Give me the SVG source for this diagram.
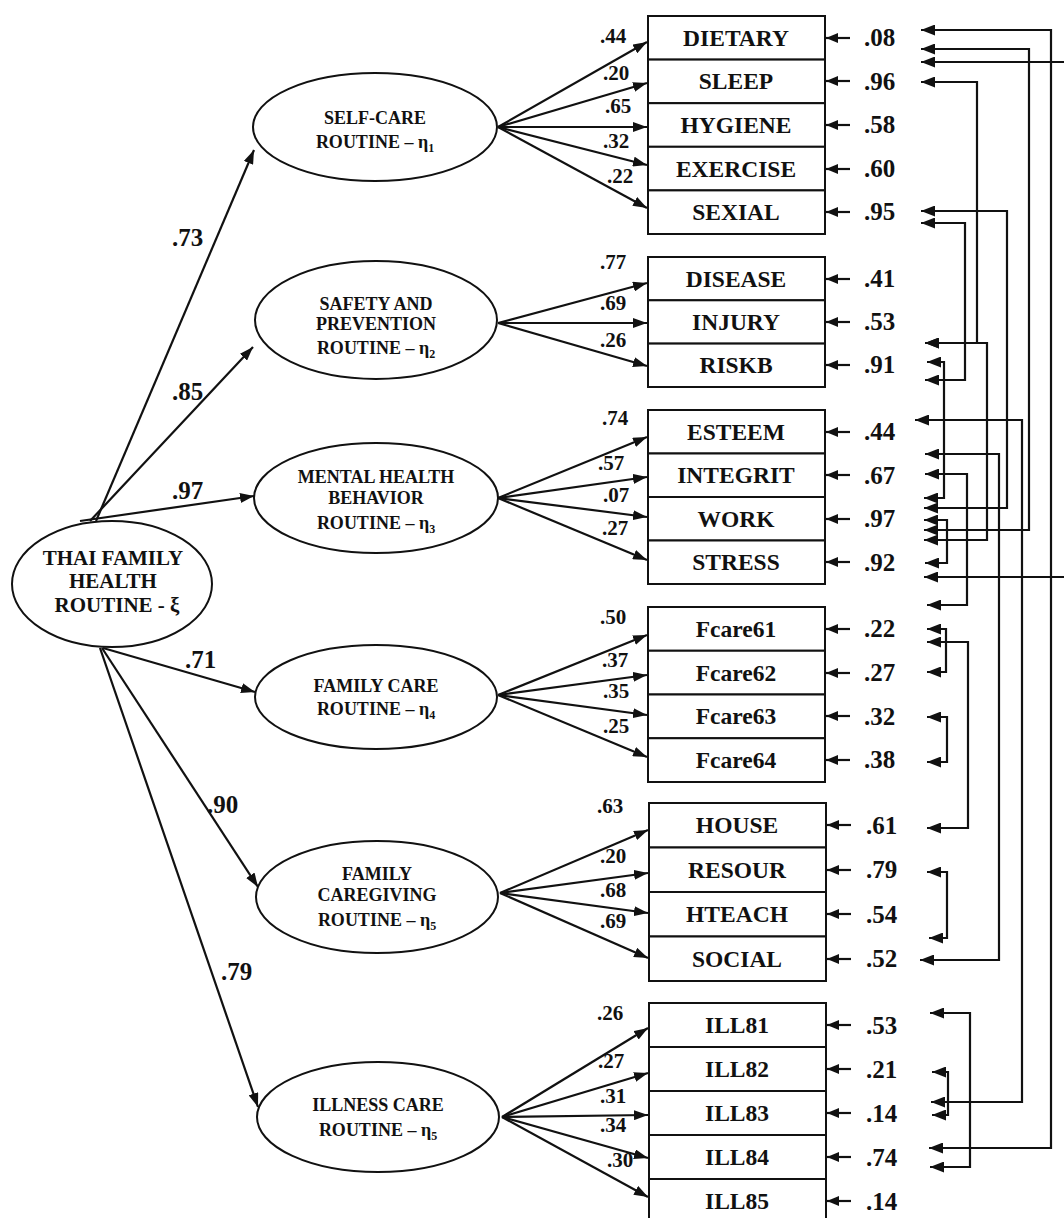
<svg xmlns="http://www.w3.org/2000/svg" width="1064" height="1218" viewBox="0 0 1064 1218">
<defs>
<style>
text{font-family:"Liberation Serif","Times New Roman",serif;font-weight:bold;fill:#111}
.bl{font-size:23.5px;text-anchor:middle}
.ev{font-size:25px}
.ld{font-size:21px}
.pl{font-size:25px}
.el{font-size:18px;text-anchor:middle}
.big{font-size:21px}
.box{fill:#fff;stroke:#111;stroke-width:2}
.ell{fill:#fff;stroke:#111;stroke-width:2}
.ar{stroke:#111;stroke-width:2.2;fill:none;marker-end:url(#ah)}
.er{stroke:#111;stroke-width:2.2;fill:none;marker-end:url(#ah2)}
.co{stroke:#111;stroke-width:2.2;fill:none;marker-start:url(#ah3);marker-end:url(#ah3)}
.sub{font-size:12px}
</style>
<marker id="ah" viewBox="0 0 14 10" refX="14" refY="5" markerWidth="14" markerHeight="10" orient="auto" markerUnits="userSpaceOnUse"><path d="M0,0 L14,5 L0,10 z" fill="#111"/></marker>
<marker id="ah2" viewBox="0 0 12 10" refX="12" refY="5" markerWidth="12" markerHeight="10" orient="auto" markerUnits="userSpaceOnUse"><path d="M0,0 L12,5 L0,10 z" fill="#111"/></marker>
<marker id="ah3" viewBox="0 0 14 11" refX="14" refY="5.5" markerWidth="14" markerHeight="11" orient="auto-start-reverse" markerUnits="userSpaceOnUse"><path d="M0,0 L14,5.5 L0,11 z" fill="#111"/></marker>
</defs>
<rect width="1064" height="1218" fill="#fff"/>

<g id="connectors">
<!-- structural paths -->
<line class="ar" x1="96" y1="521" x2="254" y2="150"/>
<line class="ar" x1="90" y1="521" x2="253" y2="347"/>
<line class="ar" x1="80" y1="521" x2="254" y2="496"/>
<line class="ar" x1="103" y1="648" x2="255" y2="692"/>
<line class="ar" x1="102" y1="648" x2="258" y2="887"/>
<line class="ar" x1="100" y1="648" x2="258" y2="1107"/>
<!-- loadings group 1 -->
<line class="ar" x1="498" y1="127" x2="647" y2="42"/>
<line class="ar" x1="498" y1="127" x2="647" y2="83"/>
<line class="ar" x1="498" y1="127" x2="647" y2="127"/>
<line class="ar" x1="498" y1="127" x2="647" y2="165"/>
<line class="ar" x1="498" y1="127" x2="647" y2="208"/>
<!-- group 2 -->
<line class="ar" x1="498" y1="323" x2="647" y2="283"/>
<line class="ar" x1="498" y1="323" x2="647" y2="323"/>
<line class="ar" x1="498" y1="323" x2="647" y2="366"/>
<!-- group 3 -->
<line class="ar" x1="498" y1="498" x2="647" y2="437"/>
<line class="ar" x1="498" y1="498" x2="647" y2="477"/>
<line class="ar" x1="498" y1="498" x2="647" y2="517"/>
<line class="ar" x1="498" y1="498" x2="647" y2="560"/>
<!-- group 4 -->
<line class="ar" x1="498" y1="695" x2="647" y2="635"/>
<line class="ar" x1="498" y1="695" x2="647" y2="675"/>
<line class="ar" x1="498" y1="695" x2="647" y2="715"/>
<line class="ar" x1="498" y1="695" x2="647" y2="757"/>
<!-- group 5 -->
<line class="ar" x1="500" y1="893" x2="648" y2="830"/>
<line class="ar" x1="500" y1="893" x2="648" y2="873"/>
<line class="ar" x1="500" y1="893" x2="648" y2="913"/>
<line class="ar" x1="500" y1="893" x2="648" y2="958"/>
<!-- group 6 -->
<line class="ar" x1="502" y1="1117" x2="648" y2="1028"/>
<line class="ar" x1="502" y1="1117" x2="648" y2="1073"/>
<line class="ar" x1="502" y1="1117" x2="648" y2="1115"/>
<line class="ar" x1="502" y1="1117" x2="648" y2="1158"/>
<line class="ar" x1="502" y1="1117" x2="648" y2="1197"/>
<!-- error arrows -->
<g>
<line class="er" x1="850" y1="38" x2="826" y2="38"/>
<line class="er" x1="850" y1="81" x2="826" y2="81"/>
<line class="er" x1="850" y1="125" x2="826" y2="125"/>
<line class="er" x1="850" y1="169" x2="826" y2="169"/>
<line class="er" x1="850" y1="212" x2="826" y2="212"/>
<line class="er" x1="850" y1="279" x2="826" y2="279"/>
<line class="er" x1="850" y1="322" x2="826" y2="322"/>
<line class="er" x1="850" y1="365" x2="826" y2="365"/>
<line class="er" x1="850" y1="432" x2="826" y2="432"/>
<line class="er" x1="850" y1="475" x2="826" y2="475"/>
<line class="er" x1="850" y1="519" x2="826" y2="519"/>
<line class="er" x1="850" y1="562" x2="826" y2="562"/>
<line class="er" x1="850" y1="629" x2="826" y2="629"/>
<line class="er" x1="850" y1="673" x2="826" y2="673"/>
<line class="er" x1="850" y1="716" x2="826" y2="716"/>
<line class="er" x1="850" y1="760" x2="826" y2="760"/>
<line class="er" x1="851" y1="825" x2="827" y2="825"/>
<line class="er" x1="851" y1="870" x2="827" y2="870"/>
<line class="er" x1="851" y1="914" x2="827" y2="914"/>
<line class="er" x1="851" y1="959" x2="827" y2="959"/>
<line class="er" x1="851" y1="1025" x2="827" y2="1025"/>
<line class="er" x1="851" y1="1069" x2="827" y2="1069"/>
<line class="er" x1="851" y1="1113" x2="827" y2="1113"/>
<line class="er" x1="851" y1="1157" x2="827" y2="1157"/>
<line class="er" x1="851" y1="1201" x2="827" y2="1201"/>
</g>
<!-- error covariances -->
<g>
<path class="co" d="M921,30 H1051 V1148 H929"/>
<path class="co" d="M921,49 H1029 V530 H924"/>
<path class="co" d="M921,62 H1080 V577 H924"/>
<path class="co" d="M921,82 H977 V343 H925"/>
<path class="co" d="M925,343 H987 V540 H924"/>
<path class="co" d="M921,211 H1007 V508 H924"/>
<path class="co" d="M921,223 H965 V380 H925"/>
<path class="co" d="M927,362 H944 V498 H924"/>
<path class="co" d="M915,420 H1022 V1102 H931"/>
<path class="co" d="M925,454 H999 V960 H920"/>
<path class="co" d="M925,474 H967 V605 H927"/>
<path class="co" d="M924,520 H947 V563 H925"/>
<path class="co" d="M927,629 H946 V672 H927"/>
<path class="co" d="M927,642 H968 V828 H927"/>
<path class="co" d="M927,717 H947 V762 H927"/>
<path class="co" d="M927,872 H947 V938 H929"/>
<path class="co" d="M930,1013 H970 V1167 H930"/>
<path class="co" d="M932,1072 H948 V1115 H932"/>
</g>
</g>

<g id="path-labels">
<text class="pl" x="172" y="246">.73</text>
<text class="pl" x="172" y="400">.85</text>
<text class="pl" x="172" y="499">.97</text>
<text class="pl" x="185" y="668">.71</text>
<text class="pl" x="207" y="813">.90</text>
<text class="pl" x="221" y="980">.79</text>
</g>

<g id="loading-labels">
<text class="ld" x="600" y="43">.44</text>
<text class="ld" x="603" y="80">.20</text>
<text class="ld" x="605" y="113">.65</text>
<text class="ld" x="603" y="148">.32</text>
<text class="ld" x="607" y="183">.22</text>
<text class="ld" x="600" y="269">.77</text>
<text class="ld" x="600" y="310">.69</text>
<text class="ld" x="600" y="347">.26</text>
<text class="ld" x="602" y="425">.74</text>
<text class="ld" x="598" y="470">.57</text>
<text class="ld" x="603" y="502">.07</text>
<text class="ld" x="602" y="535">.27</text>
<text class="ld" x="600" y="624">.50</text>
<text class="ld" x="602" y="667">.37</text>
<text class="ld" x="603" y="698">.35</text>
<text class="ld" x="603" y="733">.25</text>
<text class="ld" x="597" y="813">.63</text>
<text class="ld" x="600" y="863">.20</text>
<text class="ld" x="600" y="897">.68</text>
<text class="ld" x="600" y="928">.69</text>
<text class="ld" x="597" y="1020">.26</text>
<text class="ld" x="598" y="1068">.27</text>
<text class="ld" x="600" y="1103">.31</text>
<text class="ld" x="600" y="1132">.34</text>
<text class="ld" x="607" y="1167">.30</text>
</g>

<g id="xi">
<ellipse class="ell" cx="112" cy="584" rx="100" ry="63"/>
<text class="el big" x="113" y="565">THAI FAMILY</text>
<text class="el big" x="113" y="588">HEALTH</text>
<text class="el big" x="117" y="612">ROUTINE - ξ</text>
</g>
<g id="eta1">
<ellipse class="ell" cx="375" cy="127" rx="122" ry="54"/>
<text class="el" x="375" y="124">SELF-CARE</text>
<text class="el" x="375" y="148">ROUTINE – η<tspan class="sub" dy="4">1</tspan></text>
</g>
<g id="eta2">
<ellipse class="ell" cx="376" cy="320" rx="121" ry="59"/>
<text class="el" x="376" y="310">SAFETY AND</text>
<text class="el" x="376" y="330">PREVENTION</text>
<text class="el" x="376" y="354">ROUTINE – η<tspan class="sub" dy="4">2</tspan></text>
</g>
<g id="eta3">
<ellipse class="ell" cx="376" cy="498" rx="122" ry="55"/>
<text class="el" x="376" y="483">MENTAL HEALTH</text>
<text class="el" x="376" y="504">BEHAVIOR</text>
<text class="el" x="376" y="529">ROUTINE – η<tspan class="sub" dy="4">3</tspan></text>
</g>
<g id="eta4">
<ellipse class="ell" cx="376" cy="697" rx="121" ry="52"/>
<text class="el" x="376" y="692">FAMILY CARE</text>
<text class="el" x="376" y="715">ROUTINE – η<tspan class="sub" dy="4">4</tspan></text>
</g>
<g id="eta5">
<ellipse class="ell" cx="377" cy="897" rx="121" ry="56"/>
<text class="el" x="377" y="880">FAMILY</text>
<text class="el" x="377" y="901">CAREGIVING</text>
<text class="el" x="377" y="926">ROUTINE – η<tspan class="sub" dy="4">5</tspan></text>
</g>
<g id="eta6">
<ellipse class="ell" cx="378" cy="1117" rx="121" ry="55"/>
<text class="el" x="378" y="1111">ILLNESS CARE</text>
<text class="el" x="378" y="1136">ROUTINE – η<tspan class="sub" dy="4">5</tspan></text>
</g>

<g id="box-dietary"><rect class="box" x="648" y="16" width="177" height="43.6"/><text class="bl" x="736" y="46">DIETARY</text></g>
<g id="box-sleep"><rect class="box" x="648" y="59.6" width="177" height="43.6"/><text class="bl" x="736" y="89">SLEEP</text></g>
<g id="box-hygiene"><rect class="box" x="648" y="103.2" width="177" height="43.6"/><text class="bl" x="736" y="133">HYGIENE</text></g>
<g id="box-exercise"><rect class="box" x="648" y="146.8" width="177" height="43.6"/><text class="bl" x="736" y="177">EXERCISE</text></g>
<g id="box-sexial"><rect class="box" x="648" y="190.4" width="177" height="43.6"/><text class="bl" x="736" y="220">SEXIAL</text></g>

<g id="box-disease"><rect class="box" x="648" y="257" width="177" height="43.3"/><text class="bl" x="736" y="287">DISEASE</text></g>
<g id="box-injury"><rect class="box" x="648" y="300.3" width="177" height="43.3"/><text class="bl" x="736" y="330">INJURY</text></g>
<g id="box-riskb"><rect class="box" x="648" y="343.6" width="177" height="43.4"/><text class="bl" x="736" y="373">RISKB</text></g>

<g id="box-esteem"><rect class="box" x="648" y="410" width="177" height="43.5"/><text class="bl" x="736" y="440">ESTEEM</text></g>
<g id="box-integrit"><rect class="box" x="648" y="453.5" width="177" height="43.5"/><text class="bl" x="736" y="483">INTEGRIT</text></g>
<g id="box-work"><rect class="box" x="648" y="497" width="177" height="43.5"/><text class="bl" x="736" y="527">WORK</text></g>
<g id="box-stress"><rect class="box" x="648" y="540.5" width="177" height="43.5"/><text class="bl" x="736" y="570">STRESS</text></g>

<g id="box-fcare61"><rect class="box" x="648" y="607" width="177" height="43.75"/><text class="bl" x="736" y="637">Fcare61</text></g>
<g id="box-fcare62"><rect class="box" x="648" y="650.75" width="177" height="43.75"/><text class="bl" x="736" y="681">Fcare62</text></g>
<g id="box-fcare63"><rect class="box" x="648" y="694.5" width="177" height="43.75"/><text class="bl" x="736" y="724">Fcare63</text></g>
<g id="box-fcare64"><rect class="box" x="648" y="738.25" width="177" height="43.75"/><text class="bl" x="736" y="768">Fcare64</text></g>

<g id="box-house"><rect class="box" x="649" y="803" width="177" height="44.5"/><text class="bl" x="737" y="833">HOUSE</text></g>
<g id="box-resour"><rect class="box" x="649" y="847.5" width="177" height="44.5"/><text class="bl" x="737" y="878">RESOUR</text></g>
<g id="box-hteach"><rect class="box" x="649" y="892" width="177" height="44.5"/><text class="bl" x="737" y="922">HTEACH</text></g>
<g id="box-social"><rect class="box" x="649" y="936.5" width="177" height="44.5"/><text class="bl" x="737" y="967">SOCIAL</text></g>

<g id="box-ill81"><rect class="box" x="649" y="1003" width="177" height="44"/><text class="bl" x="737" y="1033">ILL81</text></g>
<g id="box-ill82"><rect class="box" x="649" y="1047" width="177" height="44"/><text class="bl" x="737" y="1077">ILL82</text></g>
<g id="box-ill83"><rect class="box" x="649" y="1091" width="177" height="44"/><text class="bl" x="737" y="1121">ILL83</text></g>
<g id="box-ill84"><rect class="box" x="649" y="1135" width="177" height="44"/><text class="bl" x="737" y="1165">ILL84</text></g>
<g id="box-ill85"><rect class="box" x="649" y="1179" width="177" height="44"/><text class="bl" x="737" y="1209">ILL85</text></g>

<g id="error-values">
<text class="ev" x="864" y="46">.08</text>
<text class="ev" x="864" y="90">.96</text>
<text class="ev" x="864" y="133">.58</text>
<text class="ev" x="864" y="177">.60</text>
<text class="ev" x="864" y="220">.95</text>
<text class="ev" x="864" y="287">.41</text>
<text class="ev" x="864" y="330">.53</text>
<text class="ev" x="864" y="373">.91</text>
<text class="ev" x="864" y="440">.44</text>
<text class="ev" x="864" y="484">.67</text>
<text class="ev" x="864" y="527">.97</text>
<text class="ev" x="864" y="571">.92</text>
<text class="ev" x="864" y="637">.22</text>
<text class="ev" x="864" y="681">.27</text>
<text class="ev" x="864" y="725">.32</text>
<text class="ev" x="864" y="768">.38</text>
<text class="ev" x="866" y="834">.61</text>
<text class="ev" x="866" y="878">.79</text>
<text class="ev" x="866" y="923">.54</text>
<text class="ev" x="866" y="967">.52</text>
<text class="ev" x="866" y="1034">.53</text>
<text class="ev" x="866" y="1078">.21</text>
<text class="ev" x="866" y="1122">.14</text>
<text class="ev" x="866" y="1166">.74</text>
<text class="ev" x="866" y="1210">.14</text>
</g>
</svg>
